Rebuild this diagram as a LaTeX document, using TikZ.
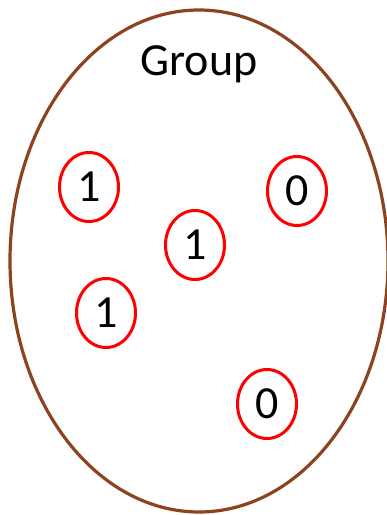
\documentclass[tikz,border=0pt]{standalone}
\usepackage{fontspec}
\setmainfont{Carlito}
\usepackage{tikz}
\usetikzlibrary{shapes.geometric}
\definecolor{group-brown}{RGB}{140,68,32}
\newcommand*\bigtxt{\fontsize{46}{50}\selectfont}

\begin{document}
\begin{tikzpicture}[x=1pt,y=-1pt,
				bit/.style={ellipse,draw=red,line width=3pt,minimum width=59pt,minimum height=69pt,inner sep=0pt,font=\bigtxt}]
				\useasboundingbox (0,0) rectangle (387,515);
				% the set
				\node (group) [ellipse,draw=group-brown,line width=3.2pt,minimum width=378pt,minimum height=502pt,inner sep=0pt] at (199,261) {};
				\node (label) [anchor=base,font=\bigtxt,inner sep=0pt] at (199,75) {Group};
				% members
				\node (b1) [bit] at (89,187) {1};
				\node (b2) [bit] at (297,191) {0};
				\node (b3) [bit] at (195,245) {1};
				\node (b4) [bit] at (106,313) {1};
				\node (b5) [bit] at (267,404) {0};
				\end{tikzpicture}
\end{document}
